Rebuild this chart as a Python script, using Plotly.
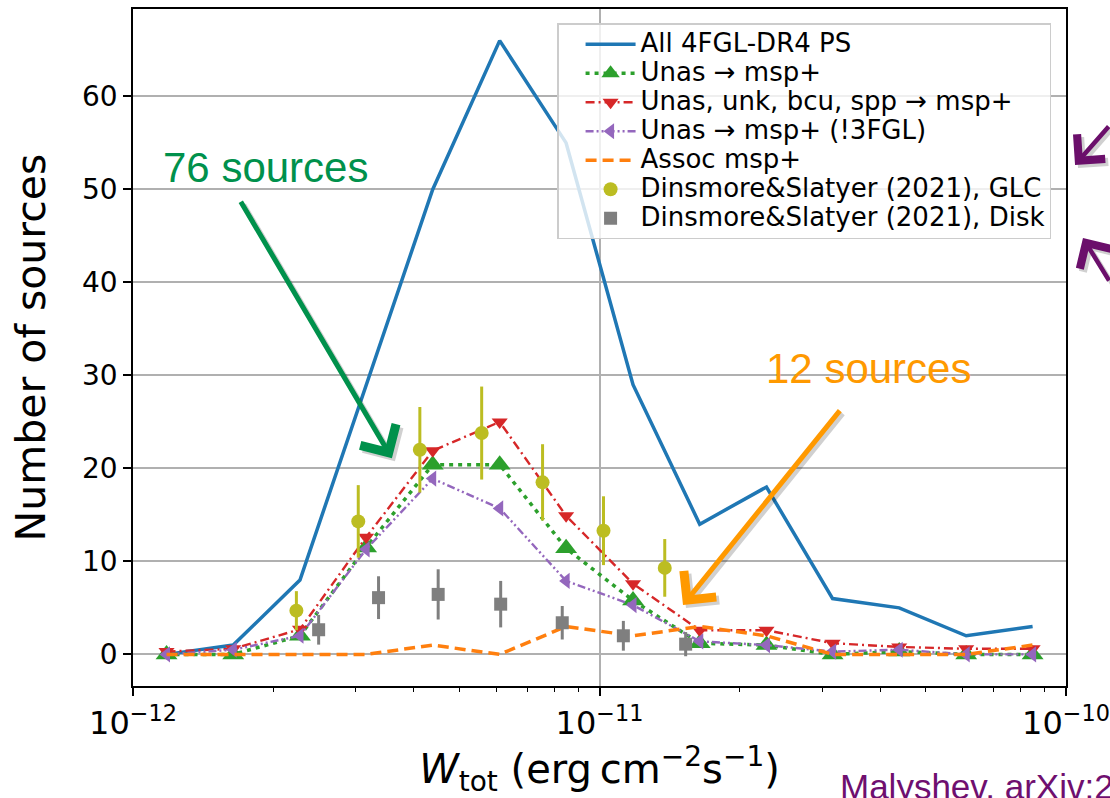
import plotly.graph_objects as go

# Histogram bins: 7 bins per decade in energy flux (erg cm^-2 s^-1), geometric centres
bin_centers = [1.18e-12, 1.64e-12, 2.28e-12, 3.16e-12, 4.39e-12, 6.11e-12, 8.48e-12,
               1.18e-11, 1.64e-11, 2.28e-11, 3.16e-11, 4.39e-11, 6.11e-11, 8.48e-11]

# Source counts per bin
all_ps = [0, 1, 8, 29, 50, 66, 55, 29, 14, 18, 6, 5, 2, 3]
unas_msp = [0, 0, 2, 11.5, 20.4, 20.4, 11.4, 5.8, 1.2, 1.0, 0, 0.3, 0, 0]
unas_ext_msp = [0.3, 0.6, 2.7, 12.6, 21.9, 25.0, 14.9, 7.6, 2.6, 2.6, 1.2, 0.8, 0.6, 0.6]
unas_new_msp = [0, 0.5, 2.0, 11.3, 18.9, 15.7, 7.9, 5.3, 1.4, 1.0, 0.3, 0.5, 0, 0]
assoc_msp = [0, 0, 0, 0, 1, 0, 3, 2, 3, 2, 0, 0, 0, 1]

# Dinsmore & Slatyer (2021) predictions with uncertainties
glc_x = [2.24e-12, 3.04e-12, 4.12e-12, 5.59e-12, 7.55e-12, 1.02e-11, 1.38e-11]
glc_y = [4.7, 14.3, 22.0, 23.8, 18.5, 13.3, 9.3]
glc_err = [2.1, 3.9, 4.6, 5.0, 4.1, 3.7, 3.1]

disk_x = [2.50e-12, 3.36e-12, 4.51e-12, 6.14e-12, 8.32e-12, 1.125e-11, 1.53e-11]
disk_y = [2.65, 6.1, 6.45, 5.4, 3.4, 2.0, 1.1]
disk_err = [1.6, 2.3, 2.7, 2.5, 1.8, 1.6, 1.3]

# Axis ticks
x_major = [1e-12, 1e-11, 1e-10]
x_major_text = ["10<sup>\u221212</sup>", "10<sup>\u221211</sup>", "10<sup>\u221210</sup>"]
x_minor = [m * 10.0 ** e for e in (-12, -11) for m in range(2, 10)]
y_ticks = [0, 10, 20, 30, 40, 50, 60]

BLUE, ORANGE, GREEN, RED = "#1f77b4", "#ff7f0e", "#2ca02c", "#d62728"
PURPLE, OLIVE, GRAY = "#9467bd", "#bcbd22", "#7f7f7f"


def label(text):
    # legend rows keep a compact line height while the label itself is drawn larger
    return '<span style="font-size:26px">' + text + "</span>"


fig = go.Figure()

fig.add_trace(go.Scatter(
    x=bin_centers, y=all_ps, mode="lines", name=label("All 4FGL-DR4 PS"),
    line=dict(color=BLUE, width=3.5)))
fig.add_trace(go.Scatter(
    x=bin_centers, y=unas_msp, mode="lines+markers", name=label("Unas \u2192 msp+"),
    line=dict(color=GREEN, width=3.5, dash="4px,5px"),
    marker=dict(symbol="triangle-up", size=19, color=GREEN)))
fig.add_trace(go.Scatter(
    x=bin_centers, y=unas_ext_msp, mode="lines+markers",
    name=label("Unas, unk, bcu, spp \u2192 msp+"),
    line=dict(color=RED, width=2.4, dash="9px,4px,2px,4px"),
    marker=dict(symbol="triangle-down", size=14, color=RED)))
fig.add_trace(go.Scatter(
    x=bin_centers, y=unas_new_msp, mode="lines+markers",
    name=label("Unas \u2192 msp+ (!3FGL)"),
    line=dict(color=PURPLE, width=2.4, dash="8px,3px,2px,3px,2px,3px"),
    marker=dict(symbol="triangle-left", size=14, color=PURPLE)))
fig.add_trace(go.Scatter(
    x=bin_centers, y=assoc_msp, mode="lines", name=label("Assoc msp+"),
    line=dict(color=ORANGE, width=3.5, dash="11px,6px")))
fig.add_trace(go.Scatter(
    x=glc_x, y=glc_y, mode="markers", name=label("Dinsmore&Slatyer (2021), GLC"),
    marker=dict(symbol="circle", size=14, color=OLIVE),
    error_y=dict(type="data", array=glc_err, color=OLIVE, thickness=3, width=0)))
fig.add_trace(go.Scatter(
    x=disk_x, y=disk_y, mode="markers", name=label("Dinsmore&Slatyer (2021), Disk"),
    marker=dict(symbol="square", size=13, color=GRAY),
    error_y=dict(type="data", array=disk_err, color=GRAY, thickness=3, width=0)))

axis_common = dict(
    showline=True, linecolor="black", linewidth=1.5, mirror=True,
    ticks="outside", ticklen=8, tickwidth=1.5, tickcolor="black",
    showgrid=True, gridcolor="#b0b0b0", gridwidth=1.5, zeroline=False,
    automargin=False,
)

fig.update_xaxes(
    type="log", range=[-12, -10],
    tickmode="array", tickvals=x_major, ticktext=x_major_text,
    tickfont=dict(size=32, color="black"),
    minor=dict(tickmode="array", tickvals=x_minor, ticks="outside",
               ticklen=4.5, tickwidth=1.2, tickcolor="black", showgrid=False),
    title=dict(text="<i>W</i><sub>tot</sub> (erg\u2009cm<sup>\u22122</sup>s<sup>\u22121</sup>)",
               font=dict(size=40, color="black"), standoff=6),
    **axis_common)
fig.update_yaxes(
    range=[-3.4, 69.4], tickmode="array", tickvals=y_ticks,
    tickfont=dict(size=28, color="black"),
    title=dict(text="Number of sources", font=dict(size=41, color="black"), standoff=24),
    **axis_common)

ann = []
SANS = "Liberation Sans, Arial, sans-serif"


def arrow(x, y, ax, ay, color, width, xref="x", yref="y"):
    # soft drop shadow first, then the arrow itself
    for col, dx, dy in (("rgba(0,0,0,0.18)", 3, -3), (color, 0, 0)):
        ann.append(dict(x=x, y=y, xref=xref, yref=yref, ax=ax, ay=ay, text="",
                        showarrow=True, arrowhead=4, arrowsize=1.6, arrowwidth=width,
                        arrowcolor=col, xshift=dx, yshift=dy))


# "76 sources" callout
ann.append(dict(x=-11.715, y=52.4, xref="x", yref="y", text="76 sources", showarrow=False,
                font=dict(family=SANS, size=42, color="#00914c")))
arrow(-11.445, 21.1, -152, -258, "#00914c", 5)

# "12 sources" callout
ann.append(dict(x=-10.424, y=30.7, xref="x", yref="y", text="12 sources", showarrow=False,
                font=dict(family=SANS, size=42, color="#ff9900")))
arrow(-10.821, 5.3, 158, -196, "#ff9900", 5)

# pointers at the right edge
arrow(1.0097, 0.7696, 70, -40, "#6b0f6b", 4.5, xref="paper", yref="paper")
arrow(1.0182, 0.6617, 62, 44, "#6b0f6b", 4.5, xref="paper", yref="paper")

# reference credit
ann.append(dict(x=0.7556, y=-0.116, xref="paper", yref="paper", xanchor="left",
                yanchor="top", text="Malyshev, arXiv:2", showarrow=False,
                font=dict(family=SANS, size=35, color="#6f0f6f")))

fig.update_layout(
    width=1110, height=798,
    margin=dict(l=133, r=44, t=9, b=112),
    paper_bgcolor="white", plot_bgcolor="white",
    font=dict(family="DejaVu Sans", color="black"),
    legend=dict(x=0.984, y=0.979, xanchor="right", yanchor="top",
                bgcolor="rgba(255,255,255,0.8)", bordercolor="#cccccc", borderwidth=1.5,
                font=dict(size=20, color="black"), itemwidth=50, tracegroupgap=0,
                indentation=22),
    annotations=ann,
)

fig.write_html("out.html")
